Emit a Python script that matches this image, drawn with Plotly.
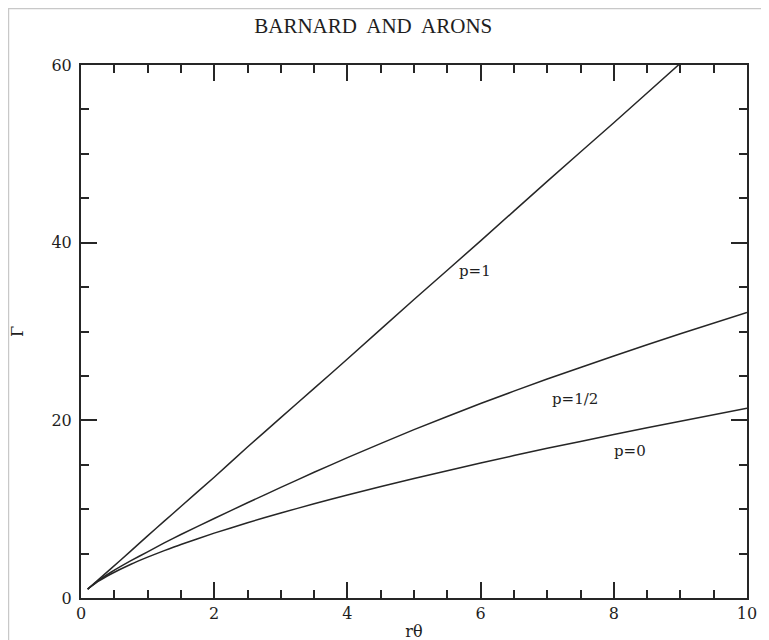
import plotly.graph_objects as go

# r*theta values
x_vals = [0.1, 0.25, 0.45, 0.75, 1, 1.25, 1.5, 2, 2.5, 3, 3.5, 4, 5, 6, 7, 8, 9, 10]
# Gamma for the three cases
gamma_p1 = [1.0, 2.0, 3.3, 5.3, 7.0, 8.65, 10.3, 13.6, 17.0, 20.3, 23.6, 26.9,
            33.6, 40.2, 46.9, 53.5, 60.2, 66.9]
gamma_p_half = [1.0, 1.9, 2.9, 4.2, 5.2, 6.2, 7.15, 8.95, 10.72, 12.45, 14.15, 15.8,
                18.95, 21.9, 24.65, 27.25, 29.75, 32.15]
gamma_p0 = [1.0, 1.83, 2.7, 3.8, 4.6, 5.33, 6.03, 7.3, 8.47, 9.57, 10.6, 11.6,
            13.45, 15.2, 16.85, 18.4, 19.9, 21.35]

labels = ["p=1", "p=1/2", "p=0"]
label_x = [5.92, 7.41, 8.24]
label_y = [36.8, 22.4, 16.6]

x_ticks = [0, 2, 4, 6, 8, 10]
y_ticks = [0, 20, 40, 60]

ink = "#1e1e1e"
stroke = "#262626"
serif = "DejaVu Serif"

fig = go.Figure()
for ys in (gamma_p1, gamma_p_half, gamma_p0):
    fig.add_trace(go.Scatter(x=x_vals, y=ys, mode="lines",
                             line=dict(color=stroke, width=1.5, shape="spline", smoothing=0.5),
                             showlegend=False, hoverinfo="skip"))

for t, lx, ly in zip(labels, label_x, label_y):
    fig.add_annotation(x=lx, y=ly, text=t, showarrow=False,
                       font=dict(family=serif, size=15, color=ink))

axis_common = dict(
    showgrid=False, zeroline=False, showline=True, linecolor=stroke, linewidth=2,
    mirror="allticks", ticks="inside", ticklen=16, tickwidth=1.5, tickcolor=stroke,
    tickfont=dict(family=serif, size=16, color=ink),
)

fig.update_xaxes(range=[0, 10], tickvals=x_ticks,
                 minor=dict(dtick=0.5, ticks="inside", ticklen=8, tickwidth=1.5, tickcolor=stroke),
                 title=dict(text="rθ", font=dict(family=serif, size=16, color=ink), standoff=4),
                 **axis_common)
fig.update_yaxes(range=[0, 60], tickvals=y_ticks,
                 minor=dict(dtick=5, ticks="inside", ticklen=8, tickwidth=1.5, tickcolor=stroke),
                 title=dict(text="Γ", font=dict(family=serif, size=16, color=ink), standoff=36),
                 ticklabelstandoff=4,
                 **axis_common)

fig.update_layout(
    width=769, height=640,
    margin=dict(l=73, r=30, t=57, b=50, autoexpand=False),
    paper_bgcolor="white", plot_bgcolor="white",
    title=dict(text="BARNARD\u00a0 AND\u00a0 ARONS", x=0.475, xanchor="center",
               y=0.972, yanchor="middle",
               font=dict(family="Liberation Serif", size=21, color="#1e1e1e")),
)

# faint scan border lines
fig.add_shape(type="line", xref="paper", yref="paper", x0=-0.2, x1=1.2, y0=1.106, y1=1.106,
              line=dict(color="#c8c8c8", width=1.5))
fig.add_shape(type="line", xref="paper", yref="paper", x0=-0.1089, x1=-0.1089, y0=-0.2, y1=1.106,
              line=dict(color="#c8c8c8", width=1.5))

fig.write_html("out.html")
